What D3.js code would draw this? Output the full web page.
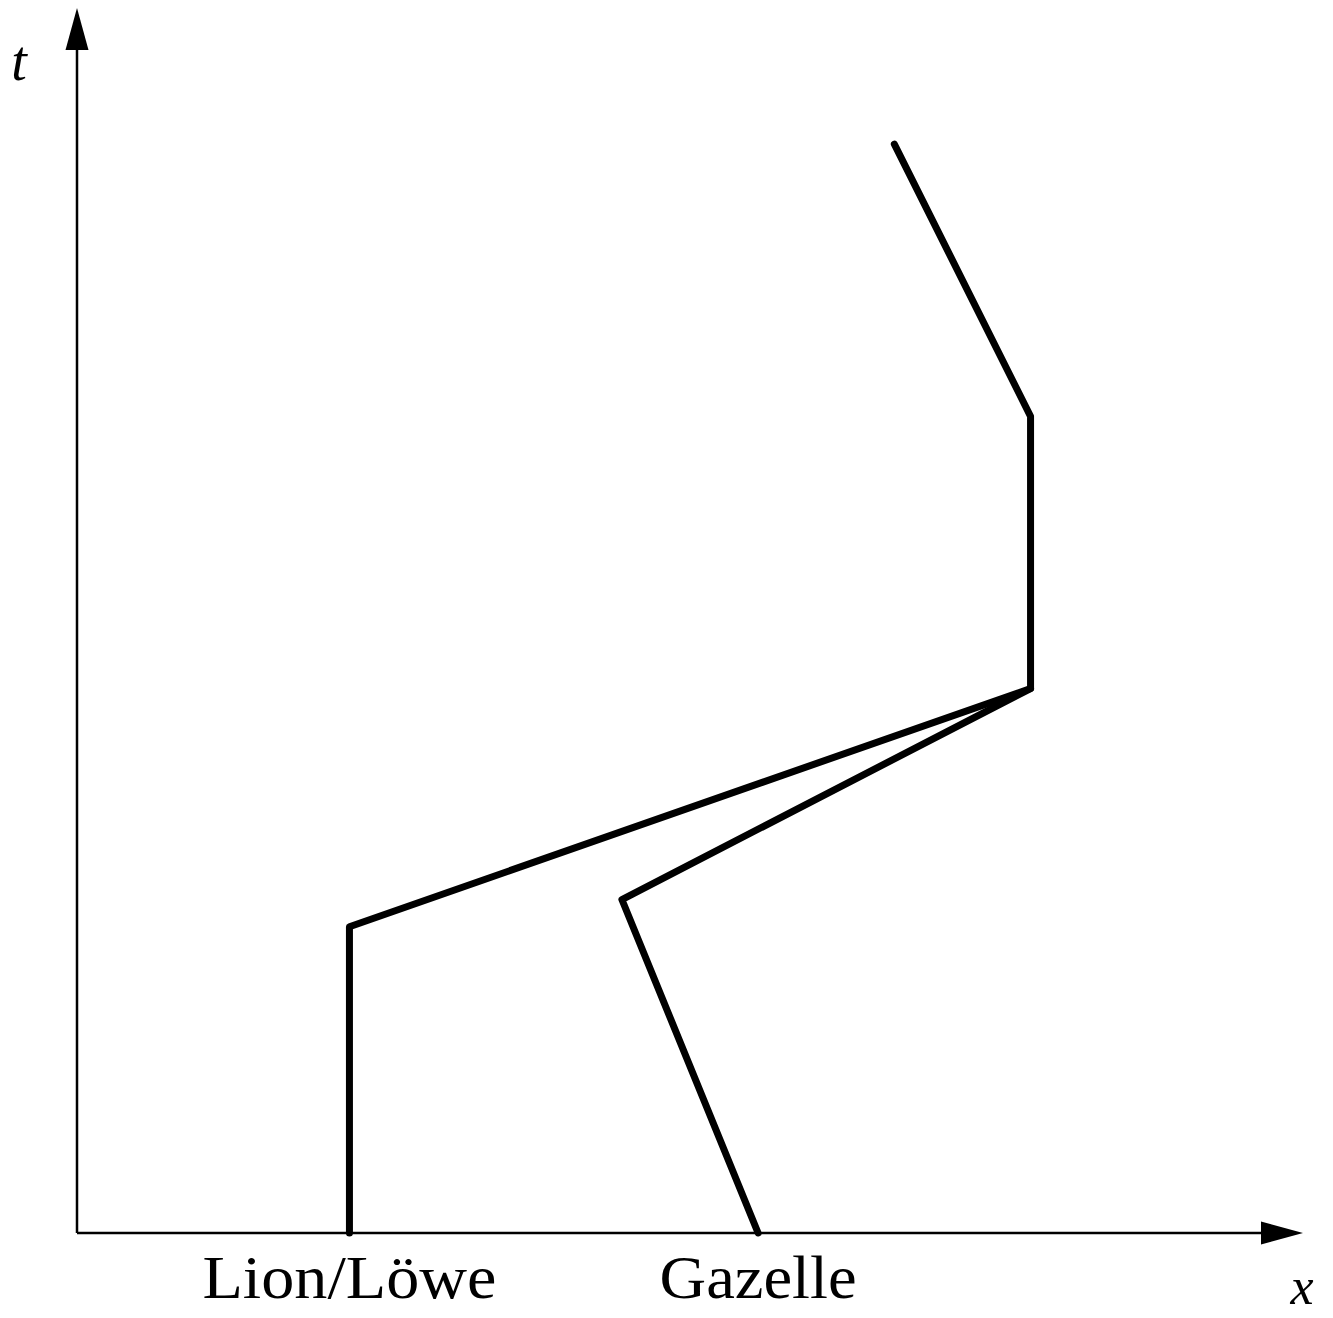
<!DOCTYPE html>
<meta charset="utf-8">
<style>
body{
	margin:0;
	background:#fff;
}
text{
	font-family:"Liberation Serif",serif;
}
</style>
<script src="https://cdn.jsdelivr.net/npm/d3@7"></script>
<div id="chart"></div>

<script>

// world lines in units (x position, time t)
var lionX = [4, 4, 14, 14, 12]
var lionT = [0, 4.5, 8, 12, 16]
var gazelleX = [10, 8, 14]
var gazelleT = [0, 4.9, 8]

var labels = ["Lion/Löwe", "Gazelle"]
var labelX = [4, 10]
var axisMax = 18

var width = 1333, height = 1318

var x = d3.scaleLinear().domain([0, axisMax]).range([77, 1303])
var y = d3.scaleLinear().domain([0, axisMax]).range([1233, 8])

var svg = d3.select("#chart").append("svg")
	.attr("width", width).attr("height", height)

// axes
svg.append("line")
	.attr("x1", x(0)).attr("y1", y(0))
	.attr("x2", x(axisMax) - 30).attr("y2", y(0))
	.attr("stroke", "#000").attr("stroke-width", 2.5)
svg.append("line")
	.attr("x1", x(0)).attr("y1", y(0))
	.attr("x2", x(0)).attr("y2", y(axisMax) + 30)
	.attr("stroke", "#000").attr("stroke-width", 2.5)

// arrow heads
svg.append("path")
	.attr("d", "M" + x(axisMax) + "," + y(0) + "L" + (x(axisMax) - 42) + "," + (y(0) - 11.5) + "L" + (x(axisMax) - 42) + "," + (y(0) + 11.5) + "Z")
	.attr("fill", "#000")
svg.append("path")
	.attr("d", "M" + x(0) + "," + y(axisMax) + "L" + (x(0) - 11.5) + "," + (y(axisMax) + 42) + "L" + (x(0) + 11.5) + "," + (y(axisMax) + 42) + "Z")
	.attr("fill", "#000")

var line = d3.line().x(function(d){ return x(d[0]) }).y(function(d){ return y(d[1]) })

var paths = [d3.zip(lionX, lionT), d3.zip(gazelleX, gazelleT)]
svg.selectAll(".wl").data(paths).enter().append("path")
	.attr("class", "wl")
	.attr("d", line)
	.attr("fill", "none")
	.attr("stroke", "#000")
	.attr("stroke-width", 7)
	.attr("stroke-linejoin", "round")
	.attr("stroke-linecap", "round")

// labels under the x axis
svg.selectAll(".lbl").data(labels).enter().append("text")
	.attr("class", "lbl")
	.attr("x", function(d, i){ return x(labelX[i]) })
	.attr("y", 1298)
	.attr("text-anchor", "middle")
	.attr("font-size", 62)
	.attr("textLength", function(d, i){ return i == 0 ? 294 : 197 })
	.attr("lengthAdjust", "spacingAndGlyphs")
	.text(function(d){ return d })

// axis names
svg.append("text").attr("x", 19).attr("y", 80).attr("text-anchor", "middle")
	.attr("font-size", 56).attr("font-style", "italic").text("t")
svg.append("text").attr("x", 1302).attr("y", 1304).attr("text-anchor", "middle")
	.attr("font-size", 52).attr("font-style", "italic").text("x")

</script>
